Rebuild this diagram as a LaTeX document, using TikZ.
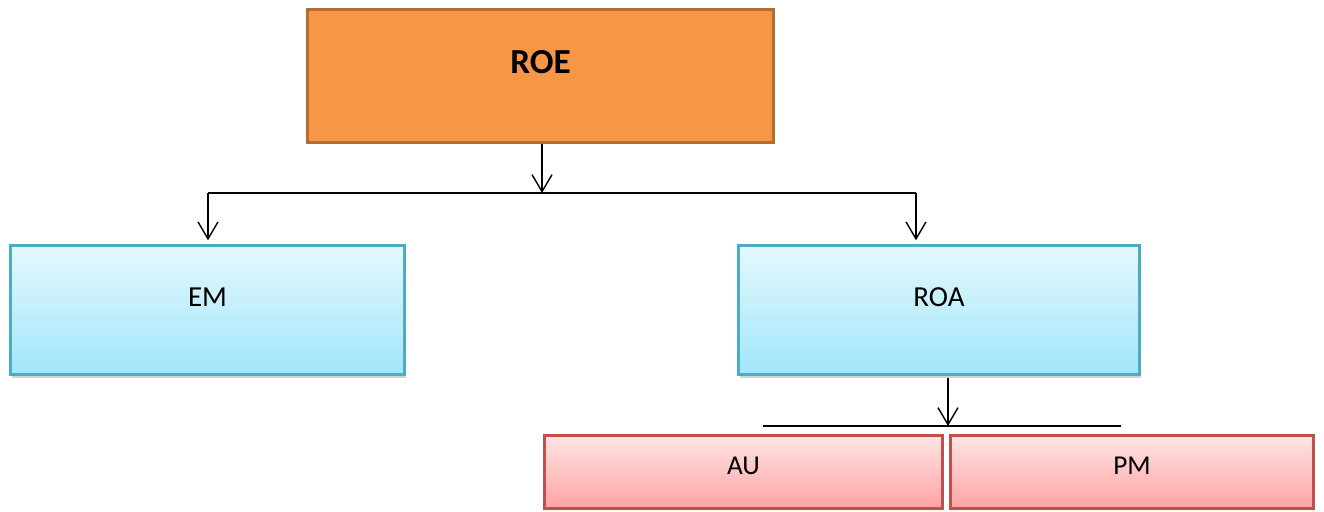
\documentclass[tikz,border=0pt]{standalone}
\usepackage{fontspec}
\setmainfont{Carlito}
\usepackage{tikz}
\usetikzlibrary{arrows.meta,shadows}
\definecolor{RoeFill}{HTML}{F79646}
\definecolor{RoeLine}{HTML}{B66D31}
\definecolor{BlueTop}{HTML}{E3F8FD}
\definecolor{BlueBot}{HTML}{A2E6FA}
\definecolor{BlueLine}{HTML}{4BACC6}
\definecolor{RedTop}{HTML}{FFE4E4}
\definecolor{RedBot}{HTML}{FFA3A3}
\definecolor{RedLine}{HTML}{C0504D}

\begin{document}
\begin{tikzpicture}[x=0.02cm, y=-0.02cm,
      arr/.style={-{Straight Barb[length=3.4mm,width=4mm]}, line width=0.8pt, black},
      roebox/.style={draw=RoeLine, fill=RoeFill, line width=1.8pt, minimum width=9.32cm, minimum height=2.66cm,
        label={[font=\fontsize{20}{24}\selectfont\bfseries, yshift=0.28cm]center:#1}},
      bluebox/.style={draw=BlueLine, top color=BlueTop, bottom color=BlueBot, line width=1.4pt, minimum height=2.58cm,
        drop shadow={opacity=0.35, shadow xshift=0.03cm, shadow yshift=-0.07cm},
        label={[font=\fontsize{16.5}{20}\selectfont, yshift=0.26cm]center:#1}},
      redbox/.style={draw=RedLine, top color=RedTop, bottom color=RedBot, line width=1.4pt, minimum height=1.46cm,
        label={[font=\fontsize{15.5}{19}\selectfont, yshift=0.12cm]center:#1}}]
    \useasboundingbox (0,0) rectangle (1324,511);
    \node (ROE) [roebox=ROE] at (540.5,76) {};
    \node (EM) [bluebox=EM, minimum width=7.88cm] at (207.5,310) {};
    \node (ROA) [bluebox=ROA, minimum width=8.02cm] at (939,310) {};
    \node (AU) [redbox=AU, minimum width=7.96cm] at (743.5,472) {};
    \node (PM) [redbox=PM, minimum width=7.26cm] at (1132,472) {};
    \coordinate (split) at (542,193);
    \coordinate (emturn) at (208,193);
    \coordinate (roaturn) at (916,193);
    \coordinate (roasplit) at (948,426);
    \coordinate (auend) at (763,426);
    \coordinate (pmend) at (1121,426);
    \draw[arr] (ROE.south -| split) -- (split);
    \draw[line width=0.8pt] (emturn) -- (roaturn);
    \draw[arr, shorten >=0.08cm] (emturn) -- (emturn |- EM.north);
    \draw[arr, shorten >=0.08cm] (roaturn) -- (roaturn |- ROA.north);
    \draw[arr, shorten <=0.04cm] (ROA.south -| roasplit) -- (roasplit);
    \draw[line width=0.8pt] (auend) -- (pmend);
\end{tikzpicture}
\end{document}
